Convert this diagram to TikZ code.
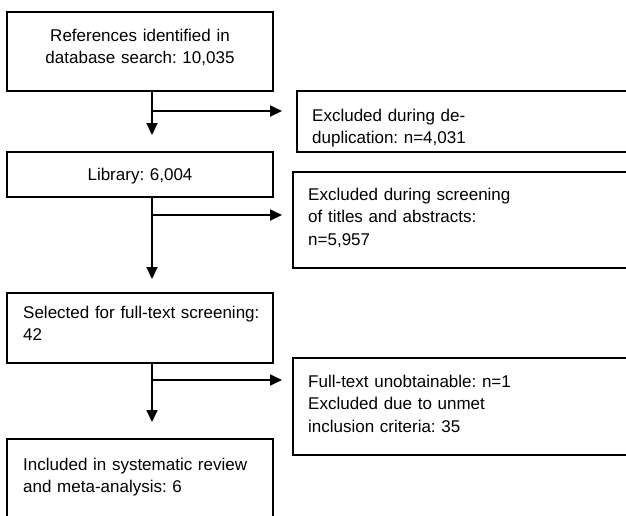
\documentclass[tikz,border=0pt]{standalone}
\usepackage{fontspec}
\setmainfont{Liberation Sans}
\usetikzlibrary{arrows.meta}
\begin{document}
\frenchspacing
\begin{tikzpicture}[x=1pt,y=-1pt,
  box/.style={draw=black, line width=1.3pt, anchor=north west, inner sep=0pt, outer sep=0pt},
  txt/.style={font=\fontsize{17}{22.5}\selectfont, inner sep=0pt, text=black},
  flow/.style={line width=1.8pt, -{Triangle[length=12pt,width=11pt]}}]
\path[use as bounding box] (0,0) rectangle (626,515);
\clip (0,0) rectangle (626,515);
\fill[white] (0,0) rectangle (626,515);
% boxes
\node[box, minimum width=266pt, minimum height=79pt] (A) at (7,12) {};
\node[box, minimum width=345pt, minimum height=61pt] (B) at (297,91) {};
\node[box, minimum width=266pt, minimum height=45pt] (C) at (7,152) {};
\node[box, minimum width=345pt, minimum height=96pt] (D) at (293,172) {};
\node[box, minimum width=266pt, minimum height=70pt] (E) at (7,293) {};
\node[box, minimum width=345pt, minimum height=97pt] (F) at (293,358) {};
\node[box, minimum width=266pt, minimum height=100pt] (G) at (7,439) {};
% texts
\node[txt, text width=266pt, align=center, anchor=base] (tA) at (140,41) {References identified in\\database search: 10,035};
\node[txt, text width=320pt, align=left, anchor=base west] (tB) at (312,121) {Excluded during de-\\duplication: n=4,031};
\node[txt, text width=266pt, align=center, anchor=base] (tC) at (140,180) {Library: 6,004};
\node[txt, text width=320pt, align=left, anchor=base west] (tD) at (308,200) {Excluded during screening\\of titles and abstracts:\\n=5,957};
\node[txt, text width=260pt, align=left, anchor=base west] (tE) at (23,318) {Selected for full-text screening:\\42};
\node[txt, text width=320pt, align=left, anchor=base west] (tF) at (308,387) {Full-text unobtainable: n=1\\Excluded due to unmet\\inclusion criteria: 35};
\node[txt, text width=260pt, align=left, anchor=base west] (tG) at (23,470) {Included in systematic review\\and meta-analysis: 6};
% connectors
\coordinate (j1) at (152,111);
\coordinate (j2) at (152,215);
\coordinate (j3) at (152,380);
\draw[flow, shorten >=17pt] (A.south -| j1) -- (C.north -| j1);
\draw[flow, shorten >=15pt] (j1) -- (B.west |- j1);
\draw[flow, shorten >=14pt] (C.south -| j2) -- (E.north -| j2);
\draw[flow, shorten >=11pt] (j2) -- (D.west |- j2);
\draw[flow, shorten >=17pt] (E.south -| j3) -- (G.north -| j3);
\draw[flow, shorten >=11pt] (j3) -- (F.west |- j3);
\end{tikzpicture}
\end{document}
